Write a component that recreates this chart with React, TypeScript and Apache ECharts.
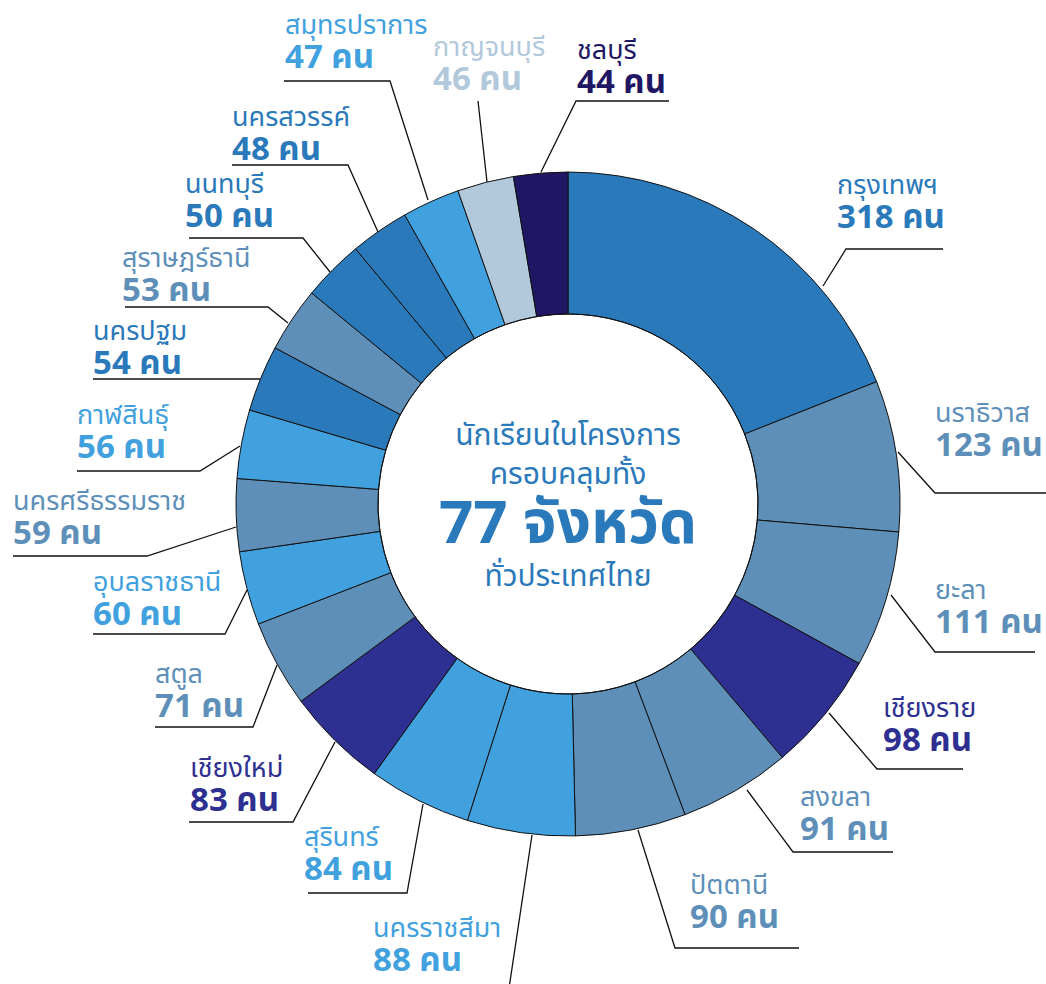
import React, { useEffect, useRef } from "react";
import * as echarts from "echarts";

const provinces = [
  "กรุงเทพฯ", "นราธิวาส", "ยะลา", "เชียงราย", "สงขลา", "ปัตตานี", "นครราชสีมา",
  "สุรินทร์", "เชียงใหม่", "สตูล", "อุบลราชธานี", "นครศรีธรรมราช", "กาฬสินธุ์",
  "นครปฐม", "สุราษฎร์ธานี", "นนทบุรี", "นครสวรรค์", "สมุทรปราการ", "กาญจนบุรี", "ชลบุรี",
];
const students = [318, 123, 111, 98, 91, 90, 88, 84, 83, 71, 60, 59, 56, 54, 53, 50, 48, 47, 46, 44];
const unit = "คน";
const centerLines = ["นักเรียนในโครงการ", "ครอบคลุมทั้ง", "77 จังหวัด", "ทั่วประเทศไทย"];

const MID = "#2a79ba";
const STEEL = "#5e8fb9";
const LIGHT = "#41a1de";
const INDIGO = "#2e3091";
const NAVY = "#1f1763";
const PALE = "#b2c8db";
const sliceColors = [
  MID, STEEL, STEEL, INDIGO, STEEL, STEEL, LIGHT, LIGHT, INDIGO, STEEL,
  LIGHT, STEEL, LIGHT, MID, STEEL, MID, MID, LIGHT, PALE, NAVY,
];

// label layout: [textLeftX, nameCenterY, p0x, p0y, p1x, p1y, p2x, p2y]
const labelPos = [
  [837, 185, 823, 286, 846, 249, 943, 249],
  [935, 413, 898, 452, 935, 493, 1046, 493],
  [935, 590, 891, 595, 935, 652, 1035, 652],
  [883, 708, 829, 713, 877, 769, 963, 769],
  [800, 797, 747, 790, 793, 852, 893, 852],
  [690, 885, 638, 830, 675, 948, 799, 948],
  [373, 928, 532, 835, 508, 995, 400, 995],
  [304, 837, 423, 804, 407, 893, 308, 893],
  [190, 768, 335, 742, 293, 822, 189, 822],
  [155, 674, 277, 665, 253, 727, 155, 727],
  [93, 582, 247, 590, 225, 634, 93, 634],
  [13, 501, 236, 527, 147, 556, 13, 556],
  [77, 415, 240, 446, 200, 471, 77, 471],
  [93, 331, 260, 379, 260, 379, 93, 379],
  [122, 258, 288, 323, 268, 307, 125, 307],
  [185, 184, 330, 272, 303, 238, 189, 238],
  [232, 117, 378, 232, 348, 165, 232, 165],
  [285, 25, 428, 200, 390, 81, 284, 81],
  [433, 47, 487, 182, 478, 101, 478, 101],
  [577, 50, 541, 172, 576, 101, 669, 101],
];

const FONT = "'Noto Sans Thai', 'Noto Sans', sans-serif";
const CX = 568;
const CY = 504;
const R_IN = 190;
const R_OUT = 332;

export default function App() {
  const ref = useRef<HTMLDivElement>(null);
  useEffect(() => {
    document.body.style.margin = "0";
    if (!ref.current) return;
    const chart = echarts.init(ref.current, undefined, { renderer: "svg" });
    const data = provinces.map((name, i) => ({
      name,
      value: students[i],
      itemStyle: { color: sliceColors[i] },
      label: { color: sliceColors[i] },
    }));
    const centerText = (text: string, y: number, font: string) => ({
      type: "text",
      x: CX,
      y,
      style: { text, fill: MID, font, textAlign: "center", textVerticalAlign: "middle" },
    });
    chart.setOption({
      animation: false,
      backgroundColor: "#ffffff",
      graphic: [
        {
          type: "circle",
          shape: { cx: CX, cy: CY, r: R_IN },
          style: { fill: "none", stroke: "#111", lineWidth: 1 },
          z: 10,
        },
        centerText(centerLines[0], 436, `30px ${FONT}`),
        centerText(centerLines[1], 475, `30px ${FONT}`),
        centerText(centerLines[2], 524, `bold 60px ${FONT}`),
        centerText(centerLines[3], 577, `30px ${FONT}`),
      ],
      series: [
        {
          type: "pie",
          center: [CX, CY],
          radius: [R_IN, R_OUT],
          startAngle: 90,
          clockwise: true,
          avoidLabelOverlap: false,
          itemStyle: { borderColor: "#111", borderWidth: 1 },
          label: {
            show: true,
            fontFamily: FONT,
            formatter: (p: any) => `{n|${p.name}}\n{v|${p.value} ${unit}}`,
            rich: {
              n: { fontSize: 27, lineHeight: 30, fontFamily: FONT },
              v: { fontSize: 33, fontWeight: "bold", lineHeight: 36, fontFamily: FONT },
            },
          },
          labelLine: { show: true, lineStyle: { color: "#111", width: 1.3 } },
          labelLayout: (params: any) => {
            const p = labelPos[params.dataIndex];
            return {
              x: p[0],
              y: p[1] - 15,
              align: "left",
              verticalAlign: "top",
              hideOverlap: false,
              moveOverlap: null,
              labelLinePoints: [
                [p[2], p[3]],
                [p[4], p[5]],
                [p[6], p[7]],
              ],
            };
          },
          emphasis: { disabled: true },
          data,
        },
      ],
    });
    return () => chart.dispose();
  }, []);
  return <div ref={ref} style={{ width: 1046, height: 984 }} />;
}
